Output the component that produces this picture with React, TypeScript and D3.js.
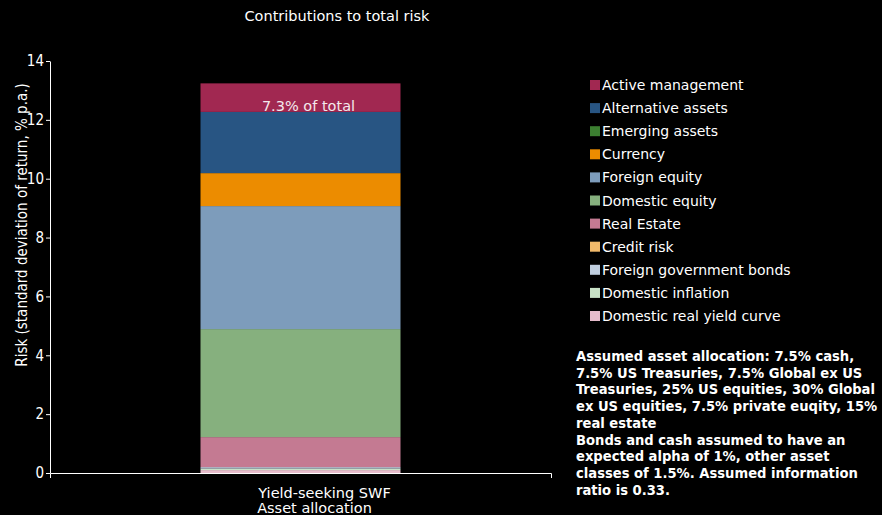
import React from 'react';
import * as d3 from 'd3';

// chart data
const categories = ['Yield-seeking SWF'];
const categorySubLabel = 'Asset allocation';
// stacked bottom -> top
const seriesNames = [
  'Domestic real yield curve',
  'Domestic inflation',
  'Foreign government bonds',
  'Credit risk',
  'Real Estate',
  'Domestic equity',
  'Foreign equity',
  'Currency',
  'Emerging assets',
  'Alternative assets',
  'Active management',
];
const seriesValues = [0.1, 0.05, 0.05, 0, 1.02, 3.67, 4.18, 1.12, 0, 2.08, 0.97];
const seriesColors = [
  '#e6bccb',
  '#c9e2c7',
  '#c0cedf',
  '#f1b96a',
  '#c47a92',
  '#86b07e',
  '#7d9cbb',
  '#ec8c00',
  '#3c7f31',
  '#285583',
  '#a12851',
];
const yTicks = [0, 2, 4, 6, 8, 10, 12, 14];
const noteLines = [
  'Assumed asset allocation: 7.5% cash,',
  '7.5% US Treasuries, 7.5% Global ex US',
  'Treasuries, 25% US equities, 30% Global',
  'ex US equities, 7.5% private euqity, 15%',
  'real estate',
  'Bonds and cash assumed to have an',
  'expected alpha of 1%, other asset',
  'classes of 1.5%. Assumed information',
  'ratio is 0.33.',
];

const FONT = "'DejaVu Sans', sans-serif";
const FONT_C = "'DejaVu Sans Condensed', 'DejaVu Sans', sans-serif";
const W = 882;
const H = 515;
const margin = { top: 61, right: 331, bottom: 42, left: 50 };

const Axis = ({ axis, transform }: { axis: any; transform: string }) => {
  const ref = React.useRef<SVGGElement>(null);
  React.useEffect(() => {
    if (!ref.current) return;
    const g = d3.select(ref.current);
    g.call(axis);
    g.selectAll('path,line').attr('stroke', '#ffffff');
    g.selectAll('text').attr('fill', '#ffffff').attr('font-size', 15).attr('font-family', FONT_C);
  }, [axis]);
  return <g ref={ref} transform={transform} />;
};

export default function App() {
  const innerW = W - margin.left - margin.right;
  const innerH = H - margin.top - margin.bottom;

  const x = d3.scaleBand().domain(categories).range([0, innerW]).padding(0.4294);
  const y = d3.scaleLinear().domain([0, 14]).range([innerH, 0]);

  const row: any = { cat: categories[0] };
  seriesNames.forEach((s, i) => (row[s] = seriesValues[i]));
  const stacked = d3.stack<any>().keys(seriesNames)([row]);

  const total = d3.sum(seriesValues);
  const activeIdx = seriesNames.indexOf('Active management');
  const share = ((seriesValues[activeIdx] / total) * 100).toFixed(1);
  const activeLayer = stacked[activeIdx][0];

  const yAxis = d3.axisLeft(y).tickValues(yTicks).tickSize(4).tickSizeOuter(0).tickPadding(2);
  const xAxis = d3.axisBottom(x).tickSizeInner(0).tickSizeOuter(5).tickFormat(() => '');

  const legend = [...seriesNames].map((n, i) => ({ n, c: seriesColors[i] })).reverse();
  const bx = x(categories[0])!;
  const cx = bx + x.bandwidth() / 2;

  return (
    <svg width={W} height={H} style={{ display: 'block', position: 'absolute', left: 0, top: 0, background: '#000' }}>
      <rect x={0} y={0} width={W} height={H} fill="#000" />
      <text x={337} y={21} fill="#fff" fontSize={14.5} fontFamily={FONT} textAnchor="middle">
        Contributions to total risk
      </text>
      <text
        transform="translate(27,225) rotate(-90)"
        fill="#fff"
        fontSize={15}
        fontFamily={FONT_C}
        textAnchor="middle"
      >
        Risk (standard deviation of return, % p.a.)
      </text>
      <g transform={`translate(${margin.left},${margin.top})`}>
        {stacked.map((layer, i) => {
          const d = layer[0];
          const h = y(d[0]) - y(d[1]);
          if (h <= 0) return null;
          return (
            <rect key={seriesNames[i]} x={bx} width={x.bandwidth()} y={y(d[1])} height={h} fill={seriesColors[i]} />
          );
        })}
        <text
          x={cx + 8}
          y={y(activeLayer[0]) - 1}
          fill="#f4e8ec"
          fontSize={14.5}
          fontFamily={FONT}
          textAnchor="middle"
        >
          {share}% of total
        </text>
        <Axis axis={yAxis} transform="translate(0,0)" />
        <Axis axis={xAxis} transform={`translate(0,${innerH})`} />
        <text x={cx + 24} y={innerH + 25} fill="#fff" fontSize={14.5} fontFamily={FONT} textAnchor="middle">
          {categories[0]}
        </text>
        <text x={cx + 14} y={innerH + 40} fill="#fff" fontSize={14.5} fontFamily={FONT} textAnchor="middle">
          {categorySubLabel}
        </text>
      </g>
      <g transform="translate(590,78)">
        {legend.map((l, i) => (
          <g key={l.n} transform={`translate(0,${i * 23.1})`}>
            <rect x={0} y={2} width={10} height={10} fill={l.c} />
            <text x={12} y={12} fill="#fff" fontSize={14} fontFamily={FONT}>
              {l.n}
            </text>
          </g>
        ))}
      </g>
      <g transform="translate(576,361)">
        {noteLines.map((t, i) => (
          <text key={i} x={0} y={i * 16.7} fill="#fff" fontSize={14.6} fontWeight="bold" fontFamily={FONT_C}>
            {t}
          </text>
        ))}
      </g>
    </svg>
  );
}
